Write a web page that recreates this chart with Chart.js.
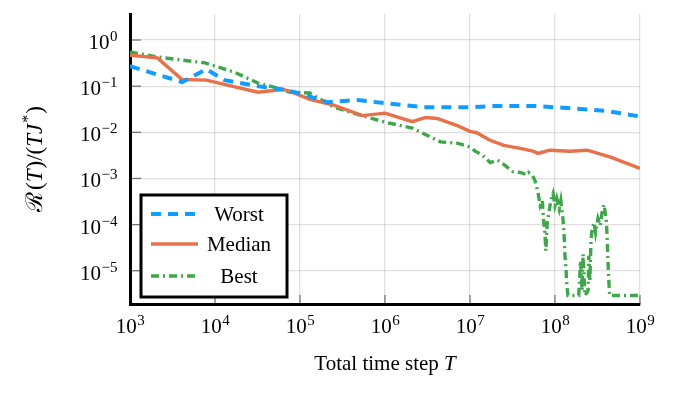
<!DOCTYPE html>
<html>
<head>
<meta charset="utf-8">
<script src="https://cdn.jsdelivr.net/npm/chart.js@4/dist/chart.umd.min.js"></script>
<style>
  html, body { margin: 0; background: #fff; }
  #wrap { width: 679px; height: 397px; }
</style>
</head>
<body>
<div id="wrap"><canvas id="myChart"></canvas></div>
<script>
// tick positions
const xTicks = [1e3, 1e4, 1e5, 1e6, 1e7, 1e8, 1e9];
const yTicks = [1e-5, 1e-4, 1e-3, 1e-2, 1e-1, 1e0];

// series: T (time step) and R(T)/(TJ*)
const worstT = [1e3, 4.1e3, 7.9e3, 1.3e4, 3.2e4, 6.2e4, 1e5, 2.1e5, 4.7e5, 1e6, 2.8e6, 1e7, 1.9e7, 6.2e7, 1.6e8, 4.1e8, 1e9];
const worstR = [0.27, 0.123, 0.234, 0.135, 0.1, 0.085, 0.07, 0.045, 0.05, 0.043, 0.035, 0.035, 0.037, 0.037, 0.033, 0.029, 0.022];

const medianT = [1e3, 2.1e3, 4.1e3, 7.9e3, 3.2e4, 6.2e4, 7.6e4, 1.3e5, 2.5e5, 5.4e5, 1e6, 2.1e6, 3e6, 4.1e6, 7.1e6,
                 1e7, 1.2e7, 1.7e7, 2.5e7, 3.9e7, 5.5e7, 6.3e7, 7.1e7, 8.7e7, 1.5e8, 2.4e8, 4.5e8, 1e9];
const medianR = [0.47, 0.41, 0.14, 0.135, 0.074, 0.085, 0.078, 0.052, 0.039, 0.023, 0.026, 0.017, 0.021, 0.02, 0.014,
                 0.0105, 0.0098, 0.0068, 0.0052, 0.0045, 0.0039, 0.0035, 0.0037, 0.0041, 0.0039, 0.0041, 0.0029, 0.00166];

const bestT = [1e3, 2.1e3, 7.6e3, 1.7e4, 3.2e4, 6.2e4, 7.6e4, 1.3e5, 2.5e5, 5.4e5, 1e6, 2.1e6, 4.5e6, 7.1e6, 1e7,
               1.15e7, 1.4e7, 1.73e7, 2.1e7, 2.6e7, 3.2e7, 3.9e7, 4.7e7, 4.9e7, 5.4e7,
               5.8e7, 6.3e7, 6.7e7, 7.1e7, 7.3e7, 7.6e7, 7.8e7, 8.1e7, 8.5e7, 8.9e7, 9.5e7, 1e8, 1.05e8, 1.12e8,
               1.17e8, 1.24e8, 1.28e8, 1.31e8, 1.35e8, 1.38e8, 1.42e8, 1.9e8, 2.0e8, 2.08e8, 2.14e8, 2.25e8,
               2.45e8, 2.5e8, 2.57e8, 2.65e8, 2.72e8, 2.88e8, 3.0e8, 3.2e8, 3.4e8, 3.57e8, 3.77e8, 4.0e8,
               4.1e8, 4.2e8, 4.3e8, 4.4e8, 1e9];
const bestR = [0.55, 0.43, 0.32, 0.2, 0.117, 0.085, 0.074, 0.071, 0.035, 0.023, 0.0166, 0.0123, 0.0062, 0.0058, 0.0048,
               0.0039, 0.0032, 0.0022, 0.0025, 0.0019, 0.0014, 0.00135, 0.0012, 0.00135, 0.00118,
               9.1e-4, 5e-4, 2.6e-4, 3.3e-4, 1.35e-4, 6.7e-5, 2.7e-5, 1.1e-4, 1.8e-4, 3.3e-4, 4.7e-4, 2.6e-4, 3.7e-4, 2.2e-4,
               3.3e-4, 1.35e-4, 5.8e-5, 2.1e-5, 1e-5, 4.7e-6, 2.9e-6, 2.9e-6, 1.65e-5, 3.7e-6, 2.3e-5, 2.9e-6,
               3.7e-6, 2.1e-5, 6e-6, 4.5e-5, 7.4e-5, 1.1e-4, 6.7e-5, 1.35e-4, 9.5e-5, 1.8e-4, 2.7e-4, 1.35e-4,
               5.8e-5, 1.65e-5, 6e-6, 2.9e-6, 2.9e-6];

const seriesNames = ['Worst', 'Median', 'Best'];
const colors = ['#129cff', '#e6714a', '#3fa64a'];
const dashes = [[10, 7], [], [8, 4, 2, 4]];
const widths = [4, 3.4, 3.4];

const serif = '"Liberation Serif", "DejaVu Serif", serif';

function pts(xs, ys) {
  return xs.map((x, i) => ({ x: x, y: ys[i] }));
}

// draws "10" with a raised exponent
function drawPow(ctx, exp, x, y, align) {
  const sup = exp < 0 ? '\u2212' + (-exp) : String(exp);
  ctx.font = '21px ' + serif;
  const wb = ctx.measureText('10').width;
  ctx.font = '15px ' + serif;
  const ws = ctx.measureText(sup).width;
  let start = align === 'center' ? x - (wb + ws) / 2 : x - wb - ws;
  ctx.textAlign = 'left';
  ctx.textBaseline = 'alphabetic';
  ctx.font = '21px ' + serif;
  ctx.fillText('10', start, y);
  ctx.font = '15px ' + serif;
  ctx.fillText(sup, start + wb + 0.5, y - 8);
}

// text made of pieces (italic / superscript), drawn from x
function pieceFont(p, size) {
  return (p.it ? 'italic ' : '') + (p.sup ? Math.round(size * 0.7) : size) + 'px ' + serif;
}
function drawPieces(ctx, pieces, x, y, size) {
  let cx = x;
  pieces.forEach(p => {
    ctx.font = pieceFont(p, size);
    ctx.fillText(p.t, cx, p.sup ? y - size * 0.38 : y);
    cx += ctx.measureText(p.t).width + (p.gap || 0);
  });
}
function piecesWidth(ctx, pieces, size) {
  let w = 0;
  pieces.forEach(p => {
    ctx.font = pieceFont(p, size);
    w += ctx.measureText(p.t).width + (p.gap || 0);
  });
  return w;
}

const decorPlugin = {
  id: 'decor',
  afterDraw(chart) {
    const ctx = chart.ctx;
    const xs = chart.scales.x, ys = chart.scales.y;
    const a = chart.chartArea;
    ctx.save();

    // inner tick marks
    ctx.strokeStyle = 'rgba(0,0,0,0.5)';
    ctx.lineWidth = 1.3;
    xTicks.forEach(v => {
      const px = xs.getPixelForValue(v);
      ctx.beginPath(); ctx.moveTo(px, a.bottom); ctx.lineTo(px, a.bottom - 9); ctx.stroke();
    });
    yTicks.forEach(v => {
      const py = ys.getPixelForValue(v);
      ctx.beginPath(); ctx.moveTo(a.left, py); ctx.lineTo(a.left + 11, py); ctx.stroke();
    });

    // tick labels
    ctx.fillStyle = '#000';
    xTicks.forEach(v => drawPow(ctx, Math.round(Math.log10(v)), xs.getPixelForValue(v), 333, 'center'));
    yTicks.forEach(v => drawPow(ctx, Math.round(Math.log10(v)), 117, ys.getPixelForValue(v) + 9, 'right'));

    // x title
    const xt = [{ t: 'Total time step ' }, { t: 'T', it: true }];
    drawPieces(ctx, xt, (a.left + a.right) / 2 - piecesWidth(ctx, xt, 21) / 2, 370, 21);

    // y title
    const yt = [{ t: '\u211B', gap: 2 }, { t: '(' }, { t: 'T', it: true, gap: 1 }, { t: ')/(' },
                { t: 'TJ', it: true, gap: 1 }, { t: '*', sup: true, gap: 1 }, { t: ')' }];
    ctx.save();
    ctx.translate(42, (a.top + a.bottom) / 2);
    ctx.rotate(-Math.PI / 2);
    drawPieces(ctx, yt, -piecesWidth(ctx, yt, 23) / 2, 0, 23);
    ctx.restore();

    // legend box
    const lx = 141, ly = 195, lw = 146, lh = 102;
    ctx.fillStyle = '#fff';
    ctx.fillRect(lx, ly, lw, lh);
    ctx.strokeStyle = '#000';
    ctx.lineWidth = 3;
    ctx.strokeRect(lx, ly, lw, lh);
    const rows = [214, 244, 276];
    seriesNames.forEach((name, i) => {
      ctx.strokeStyle = colors[i];
      ctx.lineWidth = widths[i];
      ctx.setLineDash(dashes[i]);
      ctx.beginPath(); ctx.moveTo(151, rows[i]); ctx.lineTo(198, rows[i]); ctx.stroke();
      ctx.setLineDash([]);
      ctx.fillStyle = '#000';
      ctx.font = '21px ' + serif;
      ctx.textAlign = 'center';
      ctx.textBaseline = 'middle';
      ctx.fillText(name, 239, rows[i] + 1);
    });
    ctx.restore();
  }
};

const chartContext = document.getElementById('myChart').getContext('2d');
const myChart = new Chart(chartContext, {
  type: 'line',
  data: {
    datasets: [
      { label: seriesNames[0], data: pts(worstT, worstR) },
      { label: seriesNames[1], data: pts(medianT, medianR) },
      { label: seriesNames[2], data: pts(bestT, bestR) }
    ].map((d, i) => Object.assign(d, {
      borderColor: colors[i],
      borderWidth: widths[i],
      borderDash: dashes[i],
      pointRadius: 0,
      tension: 0,
      fill: false
    }))
  },
  options: {
    responsive: true,
    maintainAspectRatio: false,
    animation: false,
    devicePixelRatio: 1,
    layout: { padding: { left: 130, right: 39, top: 14, bottom: 93 } },
    plugins: { legend: { display: false }, tooltip: { enabled: false } },
    scales: {
      x: {
        type: 'logarithmic', min: 1e3, max: 1e9,
        afterBuildTicks: s => { s.ticks = xTicks.map(v => ({ value: v })); },
        ticks: { display: false },
        grid: { color: 'rgba(0,0,0,0.12)', lineWidth: 1.3, drawTicks: false },
        border: { color: '#000', width: 3 }
      },
      y: {
        type: 'logarithmic', min: 1.9e-6, max: 3.67,
        afterBuildTicks: s => { s.ticks = yTicks.map(v => ({ value: v })); },
        ticks: { display: false },
        grid: { color: 'rgba(0,0,0,0.12)', lineWidth: 1.3, drawTicks: false },
        border: { color: '#000', width: 3 }
      }
    }
  },
  plugins: [decorPlugin]
});
</script>
</body>
</html>
